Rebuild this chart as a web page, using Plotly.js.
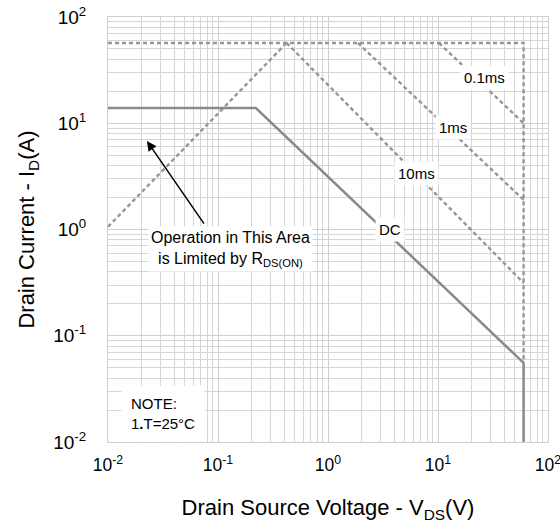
<!DOCTYPE html>
<html><head><meta charset="utf-8">
<script src="https://cdn.plot.ly/plotly-3.0.1.min.js"></script>
<style>html,body{margin:0;padding:0;background:#fff}</style>
</head><body>
<div id="chart" style="width:560px;height:529px"></div>
<script>
// Data
const dcV = [0.01, 0.221, 60, 60];
const dcI = [13.9, 13.9, 0.0555, 0.01];
const limitV = [0.01, 60, 60];
const limitI = [57, 57, 0.0555];
const rdsV = [0.01, 0.42];
const rdsI = [1.06, 57];
const ms10V = [0.42, 60];
const ms10I = [57, 0.314];
const ms1V = [1.87, 60];
const ms1I = [57, 1.9];
const ms01V = [10.2, 60];
const ms01I = [57, 10];
const labelText = ['0.1ms', '1ms', '10ms', 'DC'];
const labelV = [26.7, 13.7, 6.44, 3.66];
const labelI = [27.2, 9.2, 3.4, 1.01];
const decades = [-2, -1, 0, 1, 2];
const tickText = ['10<sup>-2</sup>', '10<sup>-1</sup>', '10<sup>0</sup>', '10<sup>1</sup>', '10<sup>2</sup>'];

const tickVals = decades.map(d => Math.pow(10, d));
const minorVals = [];
decades.slice(0, 4).forEach(d => { for (let k = 2; k <= 9; k++) minorVals.push(k * Math.pow(10, d)); });

const solid = {color: '#8a8a8a', width: 2.5};
const dashed = {color: '#969696', width: 2.4, dash: '4px,3px'};
const traces = [
  {x: limitV, y: limitI, mode: 'lines', line: dashed},
  {x: rdsV, y: rdsI, mode: 'lines', line: dashed},
  {x: ms10V, y: ms10I, mode: 'lines', line: dashed},
  {x: ms1V, y: ms1I, mode: 'lines', line: dashed},
  {x: ms01V, y: ms01I, mode: 'lines', line: dashed},
  {x: dcV, y: dcI, mode: 'lines', line: solid}
].map(t => Object.assign(t, {showlegend: false, hoverinfo: 'skip'}));

const font = {family: 'Liberation Sans, Arial, sans-serif', color: '#000'};
const annotations = labelText.map((t, i) => ({
  x: Math.log10(labelV[i]), y: Math.log10(labelI[i]), xref: 'x', yref: 'y',
  text: t, showarrow: false, bgcolor: '#fff', borderpad: 3,
  font: Object.assign({size: 15}, font)
}));
annotations.push({
  x: Math.log10(0.129), y: Math.log10(0.655), xref: 'x', yref: 'y',
  text: 'Operation in This Area<br>is Limited by R<sub>DS(ON)</sub>', showarrow: false,
  bgcolor: '#fff', borderpad: 2, align: 'center', font: Object.assign({size: 16}, font)
});
annotations.push({
  x: Math.log10(0.0226), y: Math.log10(6.8), xref: 'x', yref: 'y',
  ax: Math.log10(0.0762), ay: Math.log10(1.1), axref: 'x', ayref: 'y',
  text: '', showarrow: true, arrowhead: 2, arrowsize: 1.3, arrowwidth: 1.5, arrowcolor: '#000'
});
annotations.push({
  x: 0.03, y: 0, xref: 'paper', yref: 'paper', xanchor: 'left', yanchor: 'bottom',
  text: 'NOTE:<br>1<b>.</b>T=25°C', showarrow: false, align: 'left',
  bgcolor: '#fff', borderpad: 9, font: Object.assign({size: 15}, font)
});

const axisCommon = {
  type: 'log', tickmode: 'array', tickvals: tickVals, ticktext: tickText,
  showgrid: true, gridcolor: '#cfcfcf', gridwidth: 1,
  minor: {tickmode: 'array', tickvals: minorVals, showgrid: true, gridcolor: '#d6d6d6', gridwidth: 1, ticks: ''},
  showline: true, linecolor: '#cfcfcf', mirror: true, zeroline: false,
  ticks: 'outside', tickcolor: 'rgba(0,0,0,0)', ticklabeloverflow: 'allow',
  tickfont: Object.assign({size: 19}, font)
};

const layout = {
  width: 560, height: 529,
  margin: {l: 108, r: 12, t: 17, b: 87},
  paper_bgcolor: '#fff', plot_bgcolor: '#fff',
  xaxis: Object.assign({}, axisCommon, {range: [-2, 2], ticklen: 7,
    tickfont: Object.assign({size: 17.5}, font),
    title: {text: 'Drain Source Voltage - V<sub>DS</sub>(V)', font: Object.assign({size: 22}, font), standoff: 25}}),
  yaxis: Object.assign({}, axisCommon, {range: [-2, 2], ticklen: 17,
    title: {text: 'Drain Current - I<sub>D</sub>(A)', font: Object.assign({size: 22}, font), standoff: 12}}),
  annotations: annotations
};
Plotly.newPlot('chart', traces, layout, {displayModeBar: false, staticPlot: true});
</script>
</body></html>
